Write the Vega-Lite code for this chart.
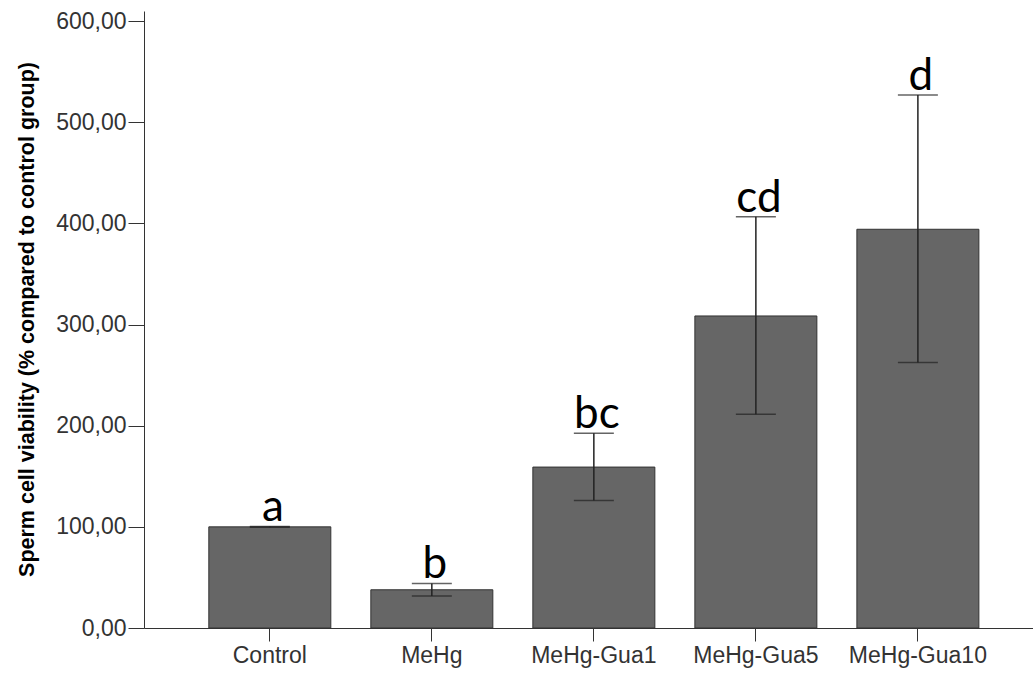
{
  "$schema": "https://vega.github.io/schema/vega-lite/v6.json",
  "width": 889,
  "height": 617,
  "autosize": "none",
  "padding": {"left": 144, "top": 11, "right": 0, "bottom": 47},
  "background": "white",
  "config": {"view": {"stroke": null}},
  "data": {
    "values": [
      {"group": "Control", "mean": 100.0, "lower": 99.6, "upper": 100.4, "letter": "a"},
      {"group": "MeHg", "mean": 37.8, "lower": 31.6, "upper": 44.1, "letter": "b"},
      {"group": "MeHg-Gua1", "mean": 159.1, "lower": 126.1, "upper": 192.6, "letter": "bc"},
      {"group": "MeHg-Gua5", "mean": 308.5, "lower": 211.4, "upper": 406.6, "letter": "cd"},
      {"group": "MeHg-Gua10", "mean": 394.2, "lower": 262.4, "upper": 526.9, "letter": "d"}
    ]
  },
  "encoding": {
    "x": {
      "field": "group",
      "type": "nominal",
      "sort": ["Control", "MeHg", "MeHg-Gua1", "MeHg-Gua5", "MeHg-Gua10"],
      "scale": {"paddingInner": 0.247, "paddingOuter": 0.367, "align": 0.545},
      "axis": {
        "title": null,
        "labelAngle": 0,
        "labelFont": "Liberation Sans",
        "labelFontSize": 23,
        "labelColor": "#333333",
        "labelPadding": 3,
        "tickSize": 13,
        "tickColor": "#333333",
        "domainColor": "#333333",
        "tickWidth": 1,
        "domainWidth": 1
      }
    }
  },
  "layer": [
    {
      "mark": {"type": "bar", "fill": "#666666", "stroke": "#333333", "strokeWidth": 1},
      "encoding": {
        "y": {
          "field": "mean",
          "type": "quantitative",
          "scale": {"domain": [0, 610], "nice": false, "zero": true},
          "axis": {
            "values": [0, 100, 200, 300, 400, 500, 600],
            "labelExpr": "replace(format(datum.value, '.2f'), '.', ',')",
            "labelFont": "Liberation Sans",
            "labelFontSize": 23,
            "labelColor": "#333333",
            "labelPadding": 2,
            "tickSize": 16,
            "tickColor": "#333333",
            "domainColor": "#333333",
            "grid": false,
            "title": "Sperm cell viability (% compared to control group)",
            "titleFont": "Liberation Sans",
            "titleFontSize": 21.5,
            "titleFontWeight": "bold",
            "titleColor": "#000000",
            "titleX": -111,
            "titleY": 308,
            "titleAngle": -90,
            "titleAlign": "center",
            "titleBaseline": "alphabetic"
          }
        }
      }
    },
    {
      "mark": {"type": "rule", "color": "#222222", "strokeWidth": 1.5},
      "encoding": {
        "y": {"field": "lower", "type": "quantitative"},
        "y2": {"field": "upper"}
      }
    },
    {
      "mark": {"type": "tick", "color": "#222222", "size": 40, "thickness": 1.5},
      "encoding": {"y": {"field": "upper", "type": "quantitative"}}
    },
    {
      "mark": {"type": "tick", "color": "#222222", "size": 40, "thickness": 1.5},
      "encoding": {"y": {"field": "lower", "type": "quantitative"}}
    },
    {
      "mark": {"type": "text", "font": "Lato", "fontSize": 44, "color": "#000000", "baseline": "alphabetic", "align": "center", "dy": -5, "dx": 3},
      "encoding": {
        "y": {"field": "upper", "type": "quantitative"},
        "text": {"field": "letter"}
      }
    }
  ]
}
